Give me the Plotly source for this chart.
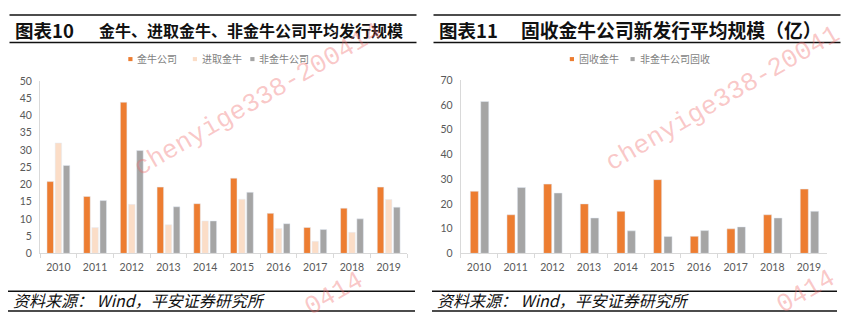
import plotly.graph_objects as go

W, H = 848, 330

# ---- data ----
years = [str(y) for y in range(2010, 2020)]
jn_company = [20.8, 16.5, 43.8, 19.2, 14.4, 21.8, 11.6, 7.5, 13.1, 19.2]
jinqu_jn = [32.0, 7.5, 14.2, 8.3, 9.4, 15.7, 7.2, 3.5, 6.1, 15.6]
non_jn = [25.5, 15.3, 29.8, 13.5, 9.4, 17.7, 8.6, 6.9, 10.0, 13.4]
fixed_jn = [25.1, 15.6, 28.0, 20.0, 17.0, 29.8, 6.9, 9.9, 15.6, 26.0]
fixed_non_jn = [61.4, 26.6, 24.4, 14.3, 9.1, 6.8, 9.2, 10.7, 14.3, 17.0]

ORANGE = "#ED7D31"
PEACH = "#FBDDC7"
GREY = "#A5A5A5"
TICK_COLOR = "#595959"
AXIS_COLOR = "#D9D9D9"
CJK = "Noto Sans CJK SC"
NUM_FONT = "Lato"


def fx(px):
    return px / W


def fy(py):
    return 1 - py / H


fig = go.Figure()

# left panel: three grouped series
left_series = [("金牛公司", jn_company, ORANGE),
               ("进取金牛", jinqu_jn, PEACH),
               ("非金牛公司", non_jn, GREY)]
for i, (name, vals, col) in enumerate(left_series):
    fig.add_trace(go.Bar(x=years, y=vals, name=name, marker_color=col,
                         width=0.178, offset=-0.31 + i * 0.222,
                         xaxis="x", yaxis="y", showlegend=False))

# right panel: two grouped series
right_series = [("固收金牛", fixed_jn, ORANGE),
                ("非金牛公司固收", fixed_non_jn, GREY)]
for i, (name, vals, col) in enumerate(right_series):
    fig.add_trace(go.Bar(x=years, y=vals, name=name, marker_color=col,
                         width=0.22, offset=-0.238 + i * 0.284,
                         xaxis="x2", yaxis="y2", showlegend=False))

xcommon = dict(type="category", showgrid=False, showline=True,
               linecolor=AXIS_COLOR, linewidth=1, ticks="outside",
               tickson="boundaries", ticklen=4, tickcolor=AXIS_COLOR,
               ticklabelstandoff=4,
               tickfont=dict(family=NUM_FONT, size=10.5, color=TICK_COLOR),
               fixedrange=True)
ycommon = dict(showgrid=False, showline=True, linecolor=AXIS_COLOR,
               linewidth=1, ticks="", zeroline=False,
               tickfont=dict(family=NUM_FONT, size=10.5, color=TICK_COLOR),
               ticklabelstandoff=5, fixedrange=True)

y_bottom, y_top = fy(256.7), fy(77.7)
fig.update_layout(
    width=W, height=H,
    margin=dict(l=0, r=0, t=0, b=0),
    paper_bgcolor="white", plot_bgcolor="white",
    barmode="overlay",
    xaxis=dict(domain=[fx(40), fx(407)], anchor="y", **xcommon),
    yaxis=dict(domain=[y_bottom, y_top], anchor="x", range=[0, 50],
               dtick=5, **ycommon),
    xaxis2=dict(domain=[fx(460.7), fx(827.3)], anchor="y2", **xcommon),
    yaxis2=dict(domain=[y_bottom, fy(77.0)], anchor="x2", range=[0, 70],
                dtick=10, **ycommon),
)

shapes = []
annotations = []

# header / footer rules for each panel
for x0, x1 in [(9.5, 416.5), (433.5, 840.5)]:
    for yy in (9.3, 38.0):
        shapes.append(dict(type="line", xref="paper", yref="paper",
                           x0=fx(x0), x1=fx(x1), y0=fy(yy), y1=fy(yy),
                           line=dict(color="#111111", width=1.5)))
for x0, x1 in [(8, 415), (432, 837)]:
    for yy in (296.0, 316.5):
        shapes.append(dict(type="line", xref="paper", yref="paper",
                           x0=fx(x0), x1=fx(x1), y0=fy(yy), y1=fy(yy),
                           line=dict(color="#111111", width=1.3)))


def text(x, y, s, size, color="#111111", family=CJK, anchor="left", angle=0):
    annotations.append(dict(xref="paper", yref="paper", x=fx(x), y=fy(y),
                            text=s, showarrow=False, xanchor=anchor,
                            yanchor="middle", textangle=angle,
                            font=dict(family=family, size=size, color=color)))


# titles
text(13, 24.5, "<b>图表10</b>", 18.5)
text(97, 24.5, "<b>金牛、进取金牛、非金牛公司平均发行规模</b>", 16)
text(437, 24.5, "<b>图表11</b>", 18.5)
text(519, 24.5, "<b>固收金牛公司新发行平均规模（亿）</b>", 18.8)

# footers
for x in (11, 435):
    text(x, 305.5, "<i>资料来源： Wind，平安证券研究所</i>", 16)

# legend keys
def legend_item(kx, label, color):
    shapes.append(dict(type="rect", xref="paper", yref="paper",
                       x0=fx(kx), x1=fx(kx + 4.2), y0=fy(57.2), y1=fy(53),
                       fillcolor=color, line=dict(width=0)))
    text(kx + 7, 54.0, label, 10, color="#7F7F7F")

legend_item(128.3, "金牛公司", ORANGE)
legend_item(192.8, "进取金牛", PEACH)
legend_item(250.3, "非金牛公司", GREY)
legend_item(569.8, "固收金牛", ORANGE)
legend_item(630.5, "非金牛公司固收", GREY)

# diagonal watermark: full strings in the upper area, tails near the bottom
WM_COLOR = "rgba(240,110,110,0.38)"
WM_FONT = "Liberation Mono"
text(258, 98, "chenyige338-200414", 26, color=WM_COLOR, family=WM_FONT,
     anchor="center", angle=-30)
text(722, 96, "chenyige338-20041", 26, color=WM_COLOR, family=WM_FONT,
     anchor="center", angle=-30)
text(334, 299, "0414", 26, color=WM_COLOR, family=WM_FONT,
     anchor="center", angle=-30)
text(806, 297, "0414", 26, color=WM_COLOR, family=WM_FONT,
     anchor="center", angle=-30)

fig.update_layout(shapes=shapes, annotations=annotations)
fig.write_html("out.html")
